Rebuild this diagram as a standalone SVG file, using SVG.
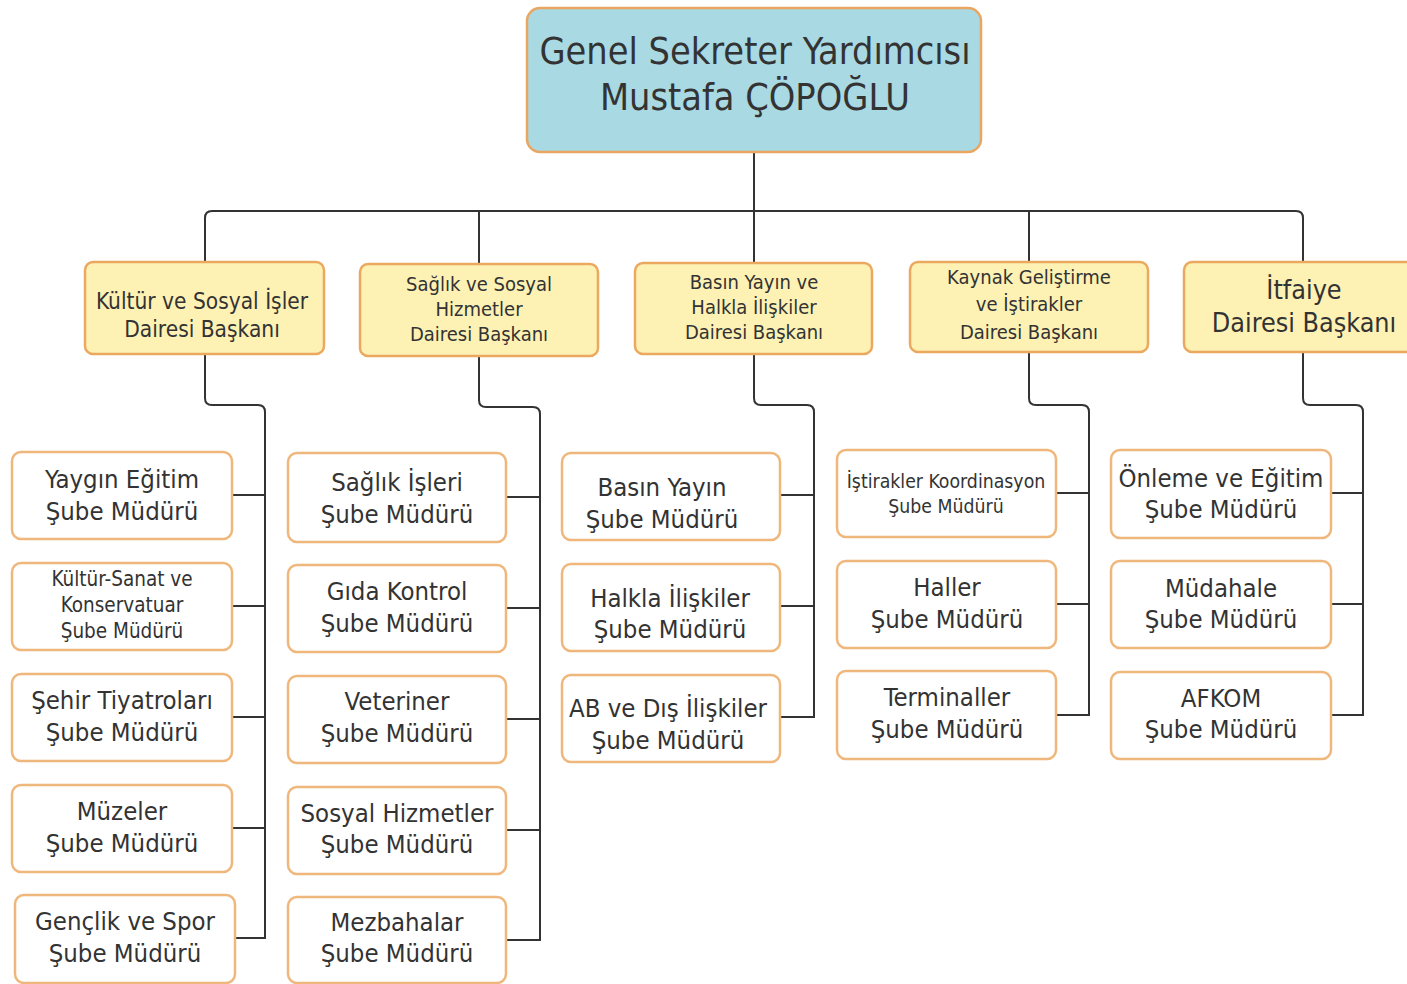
<svg xmlns="http://www.w3.org/2000/svg" width="1407" height="984" viewBox="0 0 1407 984">
<style>
.top{fill:#a9d9e2;stroke:#e9a661;stroke-width:2.5}
.mid{fill:#fdf1b4;stroke:#eba95f;stroke-width:2.5}
.leaf{fill:#ffffff;stroke:#efb77c;stroke-width:2.5}
text{font-family:"DejaVu Sans Condensed","DejaVu Sans",sans-serif;fill:#333;text-anchor:middle}
.t1{font-size:37.5px}
.t2{font-size:22.5px}
.t3{font-size:20px}
.t4{font-size:25.5px}
.t5{font-size:19.3px}
.t6{font-size:20.5px}
.t7{font-size:26.7px}
.c{fill:none;stroke:#333;stroke-width:2}
</style>
<g id="connectors">
<path class="c" d="M754 152 V263"/>
<path class="c" d="M205 262 V218 Q205 211 212 211 H1296 Q1303 211 1303 218 V262"/>
<path class="c" d="M479 211 V264 M1029 211 V262"/>
<path class="c" d="M205 354 V398 Q205 405 212 405 H258 Q265 405 265 412 V938 H235 M232 495 H265 M232 606 H265 M232 717 H265 M232 828 H265"/>
<path class="c" d="M479 356 V400 Q479 407 486 407 H533 Q540 407 540 414 V940 H507 M506 497 H540 M506 608 H540 M506 719 H540 M506 830 H540"/>
<path class="c" d="M754 354 V398 Q754 405 761 405 H807 Q814 405 814 412 V717 H780 M780 495 H814 M780 606 H814"/>
<path class="c" d="M1029 352 V398 Q1029 405 1036 405 H1082 Q1089 405 1089 412 V715 H1056 M1056 493 H1089 M1056 604 H1089"/>
<path class="c" d="M1303 352 V398 Q1303 405 1310 405 H1356 Q1363 405 1363 412 V715 H1331 M1331 493 H1363 M1331 604 H1363"/>
</g>
<g id="n-top"><rect class="top" x="527" y="8" width="454" height="144" rx="13"/><text class="t1" x="755" y="64">Genel Sekreter Yardımcısı</text><text class="t1" x="755" y="110">Mustafa ÇÖPOĞLU</text></g>
<g id="n-kultur"><rect class="mid" x="85" y="262" width="239" height="92" rx="8"/><text class="t2" x="202" y="309">Kültür ve Sosyal İşler</text><text class="t2" x="202" y="337">Dairesi Başkanı</text></g>
<g id="n-saglik"><rect class="mid" x="360" y="264" width="238" height="92" rx="8"/><text class="t3" x="479" y="291">Sağlık ve Sosyal</text><text class="t3" x="479" y="316">Hizmetler</text><text class="t3" x="479" y="341">Dairesi Başkanı</text></g>
<g id="n-basin"><rect class="mid" x="635" y="263" width="237" height="91" rx="8"/><text class="t3" x="754" y="289">Basın Yayın ve</text><text class="t3" x="754" y="314">Halkla İlişkiler</text><text class="t3" x="754" y="339">Dairesi Başkanı</text></g>
<g id="n-kaynak"><rect class="mid" x="910" y="262" width="238" height="90" rx="8"/><text class="t3" x="1029" y="284">Kaynak Geliştirme</text><text class="t3" x="1029" y="311">ve İştirakler</text><text class="t3" x="1029" y="339">Dairesi Başkanı</text></g>
<g id="n-itfaiye"><rect class="mid" x="1184" y="262" width="232" height="90" rx="8"/><text class="t7" x="1304" y="299">İtfaiye</text><text class="t7" x="1304" y="332">Dairesi Başkanı</text></g>

<g id="n-yaygin"><rect class="leaf" x="12" y="452" width="220" height="87" rx="9"/><text class="t4" x="122" y="488">Yaygın Eğitim</text><text class="t4" x="122" y="520">Şube Müdürü</text></g>
<g id="n-kultursanat"><rect class="leaf" x="12" y="563" width="220" height="87" rx="9"/><text class="t6" x="122" y="586">Kültür-Sanat ve</text><text class="t6" x="122" y="612">Konservatuar</text><text class="t6" x="122" y="638">Şube Müdürü</text></g>
<g id="n-sehir"><rect class="leaf" x="12" y="674" width="220" height="87" rx="9"/><text class="t4" x="122" y="709">Şehir Tiyatroları</text><text class="t4" x="122" y="741">Şube Müdürü</text></g>
<g id="n-muzeler"><rect class="leaf" x="12" y="785" width="220" height="87" rx="9"/><text class="t4" x="122" y="820">Müzeler</text><text class="t4" x="122" y="852">Şube Müdürü</text></g>
<g id="n-genclik"><rect class="leaf" x="15" y="895" width="220" height="88" rx="9"/><text class="t4" x="125" y="930">Gençlik ve Spor</text><text class="t4" x="125" y="962">Şube Müdürü</text></g>

<g id="n-saglikisleri"><rect class="leaf" x="288" y="453" width="218" height="89" rx="9"/><text class="t4" x="397" y="491">Sağlık İşleri</text><text class="t4" x="397" y="523">Şube Müdürü</text></g>
<g id="n-gida"><rect class="leaf" x="288" y="565" width="218" height="87" rx="9"/><text class="t4" x="397" y="600">Gıda Kontrol</text><text class="t4" x="397" y="632">Şube Müdürü</text></g>
<g id="n-veteriner"><rect class="leaf" x="288" y="676" width="218" height="87" rx="9"/><text class="t4" x="397" y="710">Veteriner</text><text class="t4" x="397" y="742">Şube Müdürü</text></g>
<g id="n-sosyal"><rect class="leaf" x="288" y="787" width="218" height="87" rx="9"/><text class="t4" x="397" y="822">Sosyal Hizmetler</text><text class="t4" x="397" y="853">Şube Müdürü</text></g>
<g id="n-mezbaha"><rect class="leaf" x="288" y="897" width="218" height="86" rx="9"/><text class="t4" x="397" y="931">Mezbahalar</text><text class="t4" x="397" y="962">Şube Müdürü</text></g>

<g id="n-basinyayin"><rect class="leaf" x="562" y="453" width="218" height="87" rx="9"/><text class="t4" x="662" y="496">Basın Yayın</text><text class="t4" x="662" y="528">Şube Müdürü</text></g>
<g id="n-halkla"><rect class="leaf" x="562" y="564" width="218" height="87" rx="9"/><text class="t4" x="670" y="607">Halkla İlişkiler</text><text class="t4" x="670" y="638">Şube Müdürü</text></g>
<g id="n-ab"><rect class="leaf" x="562" y="675" width="218" height="87" rx="9"/><text class="t4" x="668" y="717">AB ve Dış İlişkiler</text><text class="t4" x="668" y="749">Şube Müdürü</text></g>

<g id="n-istirak"><rect class="leaf" x="837" y="450" width="219" height="87" rx="9"/><text class="t5" x="946" y="488">İştirakler Koordinasyon</text><text class="t5" x="946" y="513">Şube Müdürü</text></g>
<g id="n-haller"><rect class="leaf" x="837" y="561" width="219" height="87" rx="9"/><text class="t4" x="947" y="596">Haller</text><text class="t4" x="947" y="628">Şube Müdürü</text></g>
<g id="n-terminal"><rect class="leaf" x="837" y="671" width="219" height="88" rx="9"/><text class="t4" x="947" y="706">Terminaller</text><text class="t4" x="947" y="738">Şube Müdürü</text></g>

<g id="n-onleme"><rect class="leaf" x="1111" y="450" width="220" height="88" rx="9"/><text class="t4" x="1221" y="487">Önleme ve Eğitim</text><text class="t4" x="1221" y="518">Şube Müdürü</text></g>
<g id="n-mudahale"><rect class="leaf" x="1111" y="561" width="220" height="87" rx="9"/><text class="t4" x="1221" y="597">Müdahale</text><text class="t4" x="1221" y="628">Şube Müdürü</text></g>
<g id="n-afkom"><rect class="leaf" x="1111" y="672" width="220" height="87" rx="9"/><text class="t4" x="1221" y="707">AFKOM</text><text class="t4" x="1221" y="738">Şube Müdürü</text></g>
</svg>
